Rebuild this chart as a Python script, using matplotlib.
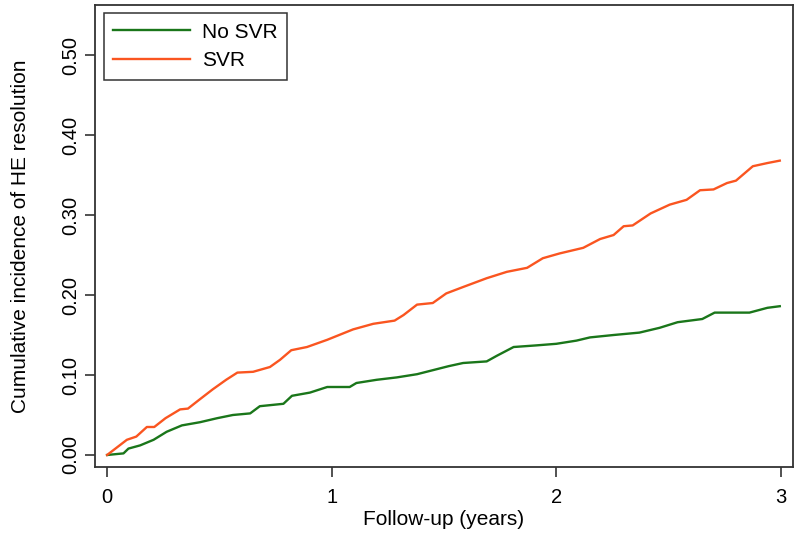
import matplotlib
matplotlib.use("Agg")
import matplotlib.pyplot as plt
import matplotlib.ticker as ticker

plt.rcParams['font.family'] = ['Liberation Sans', 'DejaVu Sans']

# cumulative incidence (years, proportion)
svr_years = [0, 0.088, 0.13, 0.177, 0.21, 0.26, 0.325, 0.36, 0.41, 0.47, 0.53,
             0.58, 0.65, 0.725, 0.77, 0.82, 0.89, 0.98, 1.095, 1.185, 1.28,
             1.32, 1.38, 1.45, 1.51, 1.585, 1.69, 1.78, 1.87, 1.94, 2.015,
             2.12, 2.195, 2.255, 2.30, 2.34, 2.42, 2.505, 2.58, 2.64, 2.70,
             2.76, 2.80, 2.875, 2.94, 2.995]
svr_inc = [0, 0.019, 0.023, 0.035, 0.035, 0.046, 0.057, 0.058, 0.069, 0.082,
           0.094, 0.103, 0.104, 0.110, 0.119, 0.131, 0.135, 0.144, 0.157,
           0.164, 0.168, 0.175, 0.188, 0.190, 0.202, 0.210, 0.221, 0.229,
           0.234, 0.246, 0.252, 0.259, 0.270, 0.275, 0.286, 0.287, 0.302,
           0.313, 0.319, 0.331, 0.332, 0.340, 0.343, 0.361, 0.365, 0.368]

nosvr_years = [0, 0.073, 0.095, 0.147, 0.207, 0.265, 0.333, 0.414, 0.49, 0.56,
               0.637, 0.68, 0.785, 0.823, 0.903, 0.98, 1.08, 1.11, 1.20, 1.29,
               1.38, 1.45, 1.52, 1.585, 1.69, 1.735, 1.81, 1.91, 2.0, 2.09,
               2.15, 2.255, 2.37, 2.46, 2.54, 2.65, 2.705, 2.86, 2.94, 2.995]
nosvr_inc = [0, 0.002, 0.008, 0.012, 0.019, 0.029, 0.037, 0.041, 0.046, 0.050,
             0.052, 0.061, 0.064, 0.074, 0.078, 0.085, 0.085, 0.090, 0.094,
             0.097, 0.101, 0.106, 0.111, 0.115, 0.117, 0.124, 0.135, 0.137,
             0.139, 0.143, 0.147, 0.150, 0.153, 0.159, 0.166, 0.170, 0.178,
             0.178, 0.184, 0.186]

x_ticks = [0, 1, 2, 3]
y_ticks = [0.0, 0.1, 0.2, 0.3, 0.4, 0.5]

fig = plt.figure(figsize=(8, 5.34), dpi=100)
ax = fig.add_axes([0.119, 0.1255, 0.872, 0.865])

ax.plot(nosvr_years, nosvr_inc, color='#1a761a', lw=1.7, label='No SVR')
ax.plot(svr_years, svr_inc, color='#fa5520', lw=1.7, label='SVR')

ax.set_xlim(-0.053, 3.053)
ax.set_ylim(-0.015, 0.5625)
ax.set_xticks(x_ticks)
ax.set_yticks(y_ticks)
ax.yaxis.set_major_formatter(ticker.FormatStrFormatter('%.2f'))

ax.tick_params(axis='both', direction='out', length=7, width=1.1,
               labelsize=14.5, color='#222222')
ax.tick_params(axis='x', pad=8)
ax.tick_params(axis='y', pad=4)
for lab in ax.get_yticklabels():
    lab.set_rotation(90)
    lab.set_va('center')

for s in ax.spines.values():
    s.set_linewidth(1.3)
    s.set_color('#333333')

ax.set_xlabel('Follow-up (years)', fontsize=15, labelpad=2)
ax.set_ylabel('Cumulative incidence of HE resolution', fontsize=15, labelpad=22)

leg = ax.legend(loc='upper left', fontsize=15, handlelength=3.7,
                handletextpad=0.6, borderaxespad=0.4, fancybox=False,
                framealpha=1, edgecolor='#333333', borderpad=0.45,
                labelspacing=0.45)
leg.get_frame().set_linewidth(1.1)

fig.savefig('out.png', dpi=100)
